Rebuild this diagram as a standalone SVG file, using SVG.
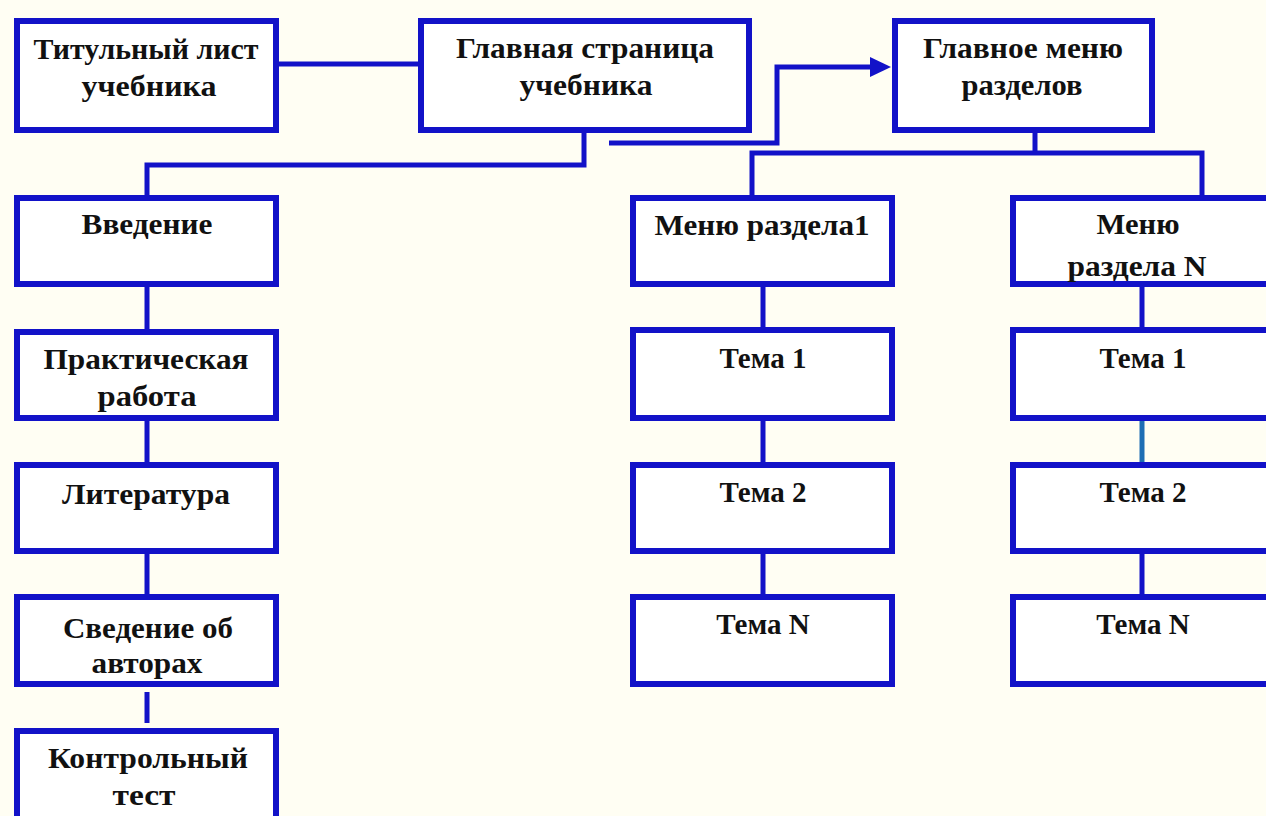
<svg xmlns="http://www.w3.org/2000/svg" width="1266" height="816" viewBox="0 0 1266 816">
<style>
.box{fill:#ffffff;stroke:#1212c8;stroke-width:6}
.ln{fill:none;stroke:#1212c8;stroke-width:5}
.t{font-family:"Liberation Serif","Times New Roman",serif;font-weight:bold;font-size:29px;fill:#111;text-anchor:middle}
</style>
<rect x="0" y="0" width="1266" height="816" fill="#fffef3"/>
<g id="connectors">
<path class="ln" d="M279,64 H418"/>
<path class="ln" d="M584,133 V165 H147 V195"/>
<path class="ln" d="M609,143 H777 V67 H872"/>
<polygon points="870,57 891,67 870,77" fill="#1212c8"/>
<path class="ln" d="M1035,133 V153"/>
<path class="ln" d="M752,195 V153 H1202 V195"/>
<path class="ln" d="M147,287 V329 M147,421 V462 M147,554 V594 M147,692 V723"/>
<path class="ln" d="M763,287 V329 M763,421 V462 M763,554 V594"/>
<path class="ln" d="M1142,287 V329 M1142,554 V594"/>
<path class="ln" d="M1142,421 V462" style="stroke:#1e6eb4"/>
</g>
<g id="n-titul">
<rect class="box" x="17" y="21" width="259" height="109"/>
<text class="t" x="146" y="59" textLength="225" lengthAdjust="spacingAndGlyphs">Титульный лист</text>
<text class="t" x="149" y="96" textLength="135" lengthAdjust="spacingAndGlyphs">учебника</text>
</g>
<g id="n-main">
<rect class="box" x="421" y="21" width="328" height="109"/>
<text class="t" x="585" y="58" textLength="258" lengthAdjust="spacingAndGlyphs">Главная страница</text>
<text class="t" x="586" y="95" textLength="133" lengthAdjust="spacingAndGlyphs">учебника</text>
</g>
<g id="n-menu">
<rect class="box" x="895" y="21" width="257" height="109"/>
<text class="t" x="1023" y="58" textLength="200" lengthAdjust="spacingAndGlyphs">Главное меню</text>
<text class="t" x="1022" y="95" textLength="121" lengthAdjust="spacingAndGlyphs">разделов</text>
</g>
<g id="n-intro">
<rect class="box" x="17" y="198" width="259" height="86"/>
<text class="t" x="147" y="234" textLength="131" lengthAdjust="spacingAndGlyphs">Введение</text>
</g>
<g id="n-practice">
<rect class="box" x="17" y="332" width="259" height="86"/>
<text class="t" x="146" y="369" textLength="205" lengthAdjust="spacingAndGlyphs">Практическая</text>
<text class="t" x="147" y="406" textLength="99" lengthAdjust="spacingAndGlyphs">работа</text>
</g>
<g id="n-lit">
<rect class="box" x="17" y="465" width="259" height="86"/>
<text class="t" x="146" y="504" textLength="168" lengthAdjust="spacingAndGlyphs">Литература</text>
</g>
<g id="n-authors">
<rect class="box" x="17" y="597" width="259" height="87"/>
<text class="t" x="148" y="638" textLength="170" lengthAdjust="spacingAndGlyphs">Сведение об</text>
<text class="t" x="147" y="673" textLength="111" lengthAdjust="spacingAndGlyphs">авторах</text>
</g>
<g id="n-test">
<rect class="box" x="17" y="731" width="259" height="100"/>
<text class="t" x="148" y="768" textLength="200" lengthAdjust="spacingAndGlyphs">Контрольный</text>
<text class="t" x="144" y="805" textLength="63" lengthAdjust="spacingAndGlyphs">тест</text>
</g>
<g id="n-sec1">
<rect class="box" x="633" y="198" width="259" height="86"/>
<text class="t" x="762" y="235" textLength="215" lengthAdjust="spacingAndGlyphs">Меню раздела1</text>
</g>
<g id="n-sec1-t1">
<rect class="box" x="633" y="330" width="259" height="88"/>
<text class="t" x="763" y="368">Тема 1</text>
</g>
<g id="n-sec1-t2">
<rect class="box" x="633" y="465" width="259" height="86"/>
<text class="t" x="763" y="502">Тема 2</text>
</g>
<g id="n-sec1-tn">
<rect class="box" x="633" y="597" width="259" height="87"/>
<text class="t" x="763" y="634">Тема N</text>
</g>
<g id="n-secN">
<rect class="box" x="1013" y="198" width="259" height="86"/>
<text class="t" x="1138" y="234" textLength="83" lengthAdjust="spacingAndGlyphs">Меню</text>
<text class="t" x="1137" y="276" textLength="139" lengthAdjust="spacingAndGlyphs">раздела N</text>
</g>
<g id="n-secN-t1">
<rect class="box" x="1013" y="330" width="259" height="88"/>
<text class="t" x="1143" y="368">Тема 1</text>
</g>
<g id="n-secN-t2">
<rect class="box" x="1013" y="465" width="259" height="86"/>
<text class="t" x="1143" y="502">Тема 2</text>
</g>
<g id="n-secN-tn">
<rect class="box" x="1013" y="597" width="259" height="87"/>
<text class="t" x="1143" y="634">Тема N</text>
</g>
</svg>
